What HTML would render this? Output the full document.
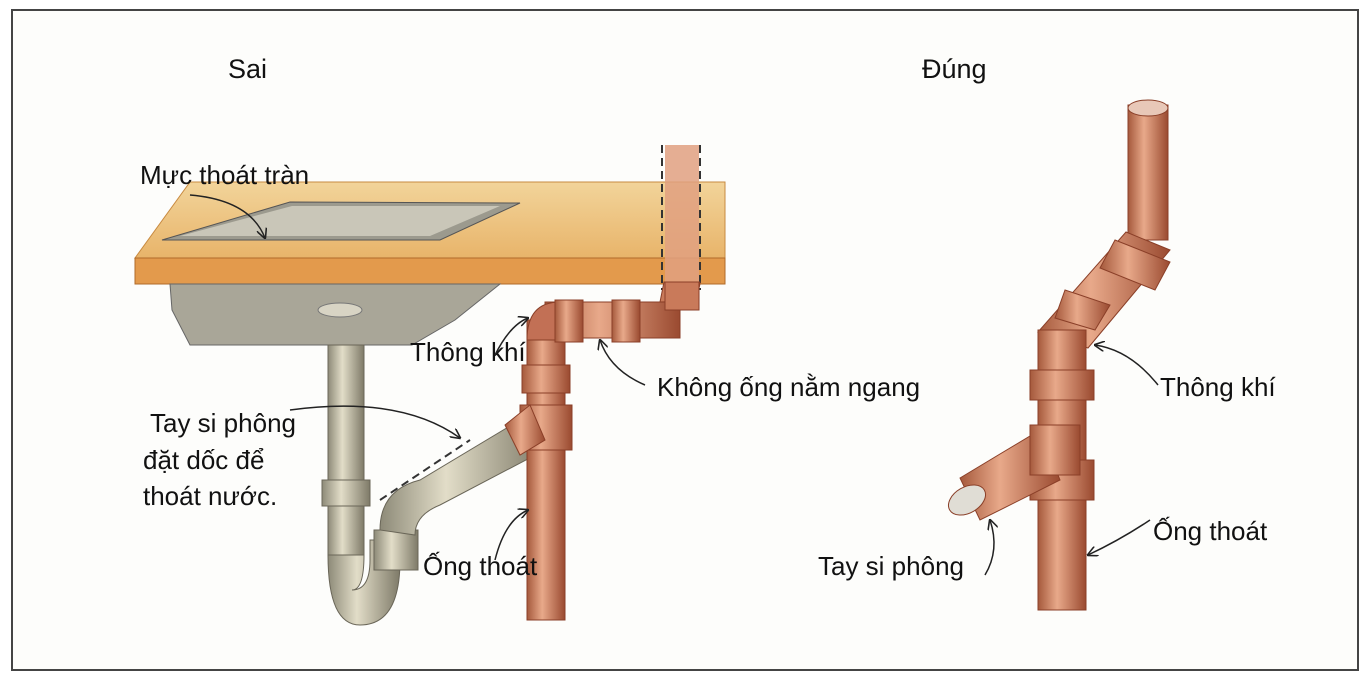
<!DOCTYPE html>
<html><head><meta charset="utf-8"><style>
html,body{margin:0;padding:0;background:#fff;}
svg{display:block;}
text{font-family:"Liberation Sans",sans-serif;fill:#111;}
</style></head><body>
<svg width="1366" height="681" viewBox="0 0 1366 681" xmlns="http://www.w3.org/2000/svg">
<defs>
<linearGradient id="cu" x1="0" x2="1" y1="0" y2="0">
<stop offset="0" stop-color="#a5593c"/><stop offset="0.4" stop-color="#e8a98a"/><stop offset="1" stop-color="#9a4a30"/></linearGradient>
<linearGradient id="gr" x1="0" x2="1" y1="0" y2="0">
<stop offset="0" stop-color="#8d8a78"/><stop offset="0.4" stop-color="#e2ddc8"/><stop offset="1" stop-color="#7e7a68"/></linearGradient>
<linearGradient id="wood" x1="0" x2="0" y1="0" y2="1">
<stop offset="0" stop-color="#f2d49a"/><stop offset="1" stop-color="#e8b46a"/></linearGradient>
<marker id="ah" viewBox="0 0 10 10" refX="9" refY="5" markerWidth="7" markerHeight="7" orient="auto"><path d="M0,0 L10,5 L0,10" fill="none" stroke="#222" stroke-width="1.5"/></marker>
</defs>
<rect x="0" y="0" width="1366" height="681" fill="#fff"/>
<rect x="12" y="10" width="1346" height="660" fill="#fdfdfb" stroke="#444" stroke-width="2"/>

<text x="228" y="78" font-size="27">Sai</text>
<text x="922" y="78" font-size="27">Đúng</text>

<polygon points="135,258 190,182 725,182 725,258" fill="url(#wood)" stroke="#c88a40"/>
<rect x="135" y="258" width="590" height="26" fill="#e39a4c" stroke="#b06a2a"/>
<polygon points="162,240 290,202 520,203 440,240" fill="#9c9a8e" stroke="#555"/>
<polygon points="180,236 292,206 500,206 430,236" fill="#c9c6b8"/>
<polygon points="170,284 500,284 455,320 412,345 190,345 172,310" fill="#a9a698" stroke="#666"/>
<ellipse cx="340" cy="310" rx="22" ry="7" fill="#d8d4c4" stroke="#777"/>
<rect x="665" y="145" width="34" height="140" fill="#e0a080" opacity="0.85"/>
<line x1="662" y1="145" x2="662" y2="290" stroke="#333" stroke-width="2" stroke-dasharray="8,5"/>
<line x1="700" y1="145" x2="700" y2="290" stroke="#333" stroke-width="2" stroke-dasharray="8,5"/>

<rect x="328" y="345" width="36" height="210" fill="url(#gr)" stroke="#6a6658"/>
<rect x="322" y="480" width="48" height="26" fill="url(#gr)" stroke="#6a6658"/>
<path d="M328,555 Q328,625 360,625 Q400,625 400,560 L400,540 L370,540 L370,560 Q370,590 352,590 Q364,590 364,555 Z" fill="url(#gr)" stroke="#6a6658"/>
<rect x="374" y="530" width="44" height="40" fill="url(#gr)" stroke="#6a6658"/>
<path d="M380,530 Q380,490 420,480 L520,420 L545,450 L440,505 Q415,515 415,535 Z" fill="url(#gr)" stroke="#6a6658"/>
<line x1="380" y1="500" x2="470" y2="440" stroke="#333" stroke-width="2" stroke-dasharray="8,5"/>

<rect x="527" y="320" width="38" height="300" fill="url(#cu)" stroke="#8a3f28"/>
<rect x="520" y="405" width="52" height="45" fill="url(#cu)" stroke="#8a3f28"/>
<polygon points="505,425 530,405 545,440 520,455" fill="url(#cu)" stroke="#8a3f28"/>
<rect x="522" y="365" width="48" height="28" fill="url(#cu)" stroke="#8a3f28"/>
<rect x="545" y="302" width="135" height="36" fill="url(#cu)" stroke="#8a3f28"/>
<path d="M660,302 Q700,302 700,282 L664,282 Z" fill="#c97a5a" stroke="#8a3f28"/>
<rect x="665" y="282" width="34" height="28" fill="#c97a5a" stroke="#8a3f28"/>
<path d="M527,340 Q527,302 560,302 L560,340 Z" fill="#c27055" stroke="#8a3f28"/>
<rect x="555" y="300" width="28" height="42" fill="url(#cu)" stroke="#8a3f28"/>
<rect x="612" y="300" width="28" height="42" fill="url(#cu)" stroke="#8a3f28"/>

<rect x="1128" y="105" width="40" height="135" fill="url(#cu)" stroke="#8a3f28"/>
<ellipse cx="1148" cy="108" rx="20" ry="8" fill="#e8c8b8" stroke="#8a3f28"/>
<polygon points="1126,232 1170,250 1088,348 1038,332" fill="url(#cu)" stroke="#8a3f28"/>
<polygon points="1115,240 1170,262 1155,290 1100,268" fill="url(#cu)" stroke="#8a3f28"/>
<polygon points="1065,290 1110,305 1095,330 1055,318" fill="url(#cu)" stroke="#8a3f28"/>
<rect x="1038" y="330" width="48" height="280" fill="url(#cu)" stroke="#8a3f28"/>
<rect x="1030" y="370" width="64" height="30" fill="url(#cu)" stroke="#8a3f28"/>
<rect x="1030" y="460" width="64" height="40" fill="url(#cu)" stroke="#8a3f28"/>
<polygon points="960,478 1040,430 1060,480 980,520" fill="url(#cu)" stroke="#8a3f28"/>
<ellipse cx="967" cy="500" rx="20" ry="13" fill="#e0ddd5" stroke="#8a3f28" transform="rotate(-30 967 500)"/>
<rect x="1030" y="425" width="50" height="50" fill="url(#cu)" stroke="#8a3f28"/>

<g font-size="26">
<text x="140" y="184">Mực thoát tràn</text>
<text x="410" y="361">Thông khí</text>
<text x="657" y="396">Không ống nằm ngang</text>
<text x="150" y="432">Tay si phông</text>
<text x="143" y="469">đặt dốc để</text>
<text x="143" y="505">thoát nước.</text>
<text x="423" y="575">Ống thoát</text>
<text x="1160" y="396">Thông khí</text>
<text x="1153" y="540">Ống thoát</text>
<text x="818" y="575">Tay si phông</text>
</g>
<g fill="none" stroke="#222" stroke-width="1.5" marker-end="url(#ah)">
<path d="M190,195 Q250,200 265,238"/>
<path d="M495,355 Q510,325 528,318"/>
<path d="M645,385 Q610,370 600,340"/>
<path d="M290,410 Q400,395 460,438"/>
<path d="M495,560 Q505,520 528,510"/>
<path d="M1158,385 Q1130,350 1095,345"/>
<path d="M1150,520 Q1120,540 1088,555"/>
<path d="M985,575 Q1000,550 990,520"/>
</g>
</svg>
</body></html>
